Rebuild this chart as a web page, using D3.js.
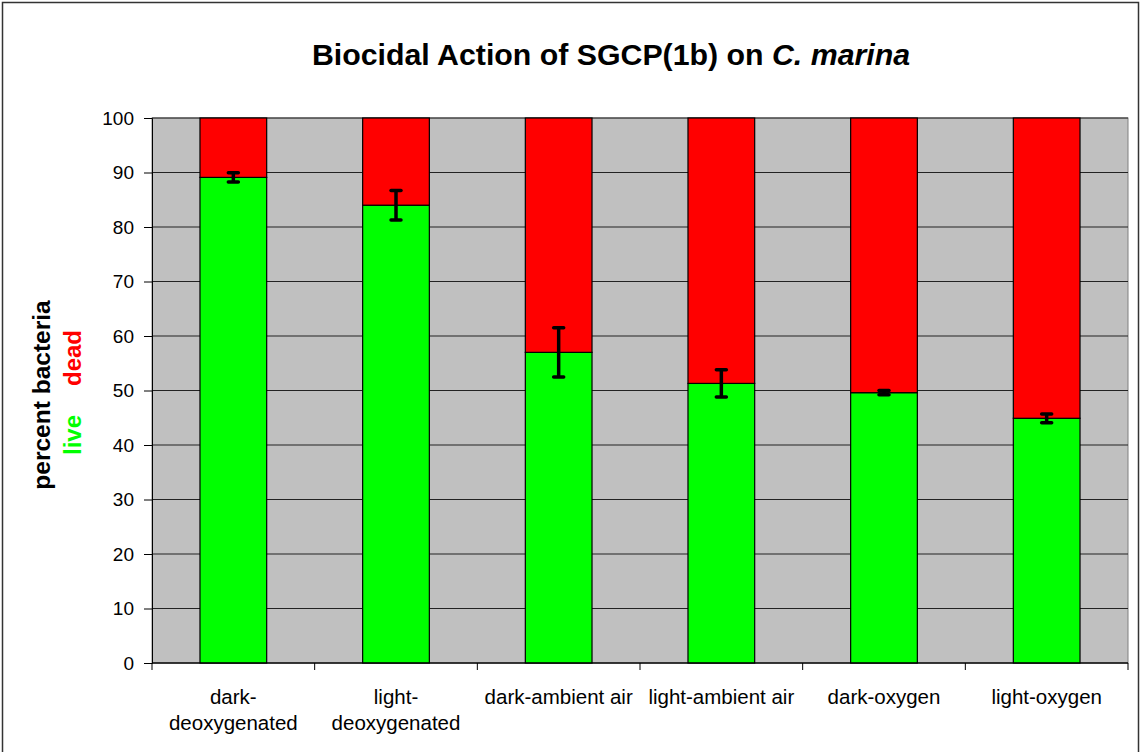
<!DOCTYPE html>
<html lang="en">
<head>
<meta charset="utf-8">
<title>Biocidal Action of SGCP(1b) on C. marina</title>
<style>
  body { margin: 0; background: #fff; }
  text { font-family: "Liberation Sans", Arial, sans-serif; }
</style>
</head>
<body>
<svg width="1141" height="752"></svg>
<script src="https://cdn.jsdelivr.net/npm/d3@7"></script>
<script>
// chart data
var categories = [["dark-", "deoxygenated"], ["light-", "deoxygenated"], ["dark-ambient air"],
                  ["light-ambient air"], ["dark-oxygen"], ["light-oxygen"]];
var live = [89.1, 84.0, 57.0, 51.3, 49.6, 44.9];
var liveErr = [0.85, 2.7, 4.5, 2.5, 0.4, 0.8];
var yTicks = [0, 10, 20, 30, 40, 50, 60, 70, 80, 90, 100];

var svg = d3.select("svg");
var margin = {left: 152, right: 13, top: 118, bottom: 89};
var width = 1141 - margin.left - margin.right,
    height = 752 - margin.top - margin.bottom;

// outer frame
svg.append("rect")
  .attr("x", 2.5).attr("y", 2.5).attr("width", 1136).attr("height", 760)
  .attr("fill", "none").attr("stroke", "#333").attr("stroke-width", 1.5);

var g = svg.append("g").attr("transform", "translate(" + margin.left + "," + margin.top + ")");

var x = d3.scaleBand().domain(d3.range(categories.length)).range([0, width]);
var y = d3.scaleLinear().domain([0, 100]).range([height, 0]);

g.append("rect").attr("width", width).attr("height", height)
  .attr("fill", "#c0c0c0").attr("stroke", "#808080");

// gridlines
g.selectAll(".grid").data(yTicks).enter().append("line")
  .attr("x1", 0).attr("x2", width)
  .attr("y1", function(d) { return y(d); }).attr("y2", function(d) { return y(d); })
  .attr("stroke", "#222").attr("stroke-width", 1);

var barW = x.bandwidth() * 0.41;
var bars = g.selectAll(".bar").data(live).enter().append("g")
  .attr("transform", function(d, i) { return "translate(" + (x(i) + x.bandwidth() / 2 - barW / 2) + ",0)"; });

bars.append("rect")
  .attr("y", function(d) { return y(d); })
  .attr("height", function(d) { return y(0) - y(d); })
  .attr("width", barW)
  .attr("fill", "#00ff00").attr("stroke", "#000").attr("stroke-width", 1.2);

bars.append("rect")
  .attr("y", y(100))
  .attr("height", function(d) { return y(d) - y(100); })
  .attr("width", barW)
  .attr("fill", "#ff0000").attr("stroke", "#000").attr("stroke-width", 1.2);

// error bars
var eb = g.selectAll(".err").data(live).enter().append("g")
  .attr("stroke", "#000").attr("stroke-width", 3.5);
eb.append("line")
  .attr("x1", function(d, i) { return x(i) + x.bandwidth() / 2; })
  .attr("x2", function(d, i) { return x(i) + x.bandwidth() / 2; })
  .attr("y1", function(d, i) { return y(d + liveErr[i]); })
  .attr("y2", function(d, i) { return y(d - liveErr[i]); });
[1, -1].forEach(function(s) {
  eb.append("line")
    .attr("stroke-linecap", "round")
    .attr("x1", function(d, i) { return x(i) + x.bandwidth() / 2 - 5; })
    .attr("x2", function(d, i) { return x(i) + x.bandwidth() / 2 + 5; })
    .attr("y1", function(d, i) { return y(d + s * liveErr[i]); })
    .attr("y2", function(d, i) { return y(d + s * liveErr[i]); });
});

// y axis
var yAxis = g.append("g").call(d3.axisLeft(y).tickValues(yTicks).tickSize(8).tickPadding(10));
yAxis.select(".domain").attr("stroke", "#000");
yAxis.selectAll("text").attr("font-size", 19).attr("fill", "#000").attr("font-family", "Liberation Sans, Arial, sans-serif");

// x axis: ticks at category boundaries
var xAxis = g.append("g").attr("transform", "translate(0," + height + ")");
xAxis.append("line").attr("x1", 0).attr("x2", width).attr("stroke", "#000");
xAxis.selectAll(".tick").data(d3.range(categories.length + 1)).enter().append("line")
  .attr("x1", function(d) { return d * x.step(); }).attr("x2", function(d) { return d * x.step(); })
  .attr("y1", 0).attr("y2", 7).attr("stroke", "#000");
xAxis.selectAll(".lab").data(categories).enter().append("text")
  .attr("x", function(d, i) { return x(i) + x.bandwidth() / 2; })
  .attr("y", 41)
  .attr("text-anchor", "middle").attr("font-size", 20.5).attr("fill", "#000")
  .each(function(d) {
    var t = d3.select(this);
    d.forEach(function(line, k) {
      t.append("tspan").attr("x", t.attr("x")).attr("dy", k === 0 ? 0 : 26).text(line);
    });
  });

// title
var title = svg.append("text")
  .attr("x", 611).attr("y", 65)
  .attr("text-anchor", "middle").attr("font-size", 30.3).attr("font-weight", "bold").attr("fill", "#000");
title.append("tspan").text("Biocidal Action of SGCP(1b) on ");
title.append("tspan").attr("font-style", "italic").text("C. marina");

// y axis label
svg.append("text")
  .attr("transform", "translate(50,395) rotate(-90)")
  .attr("text-anchor", "middle").attr("font-size", 24.5).attr("font-weight", "bold").attr("fill", "#000")
  .text("percent bacteria");
svg.append("text")
  .attr("transform", "translate(81,435) rotate(-90)")
  .attr("text-anchor", "middle").attr("font-size", 24).attr("font-weight", "bold")
  .attr("fill", "#00ff00").text("live");
svg.append("text")
  .attr("transform", "translate(81,358) rotate(-90)")
  .attr("text-anchor", "middle").attr("font-size", 24).attr("font-weight", "bold")
  .attr("fill", "#ff0000").text("dead");
</script>
</body>
</html>
